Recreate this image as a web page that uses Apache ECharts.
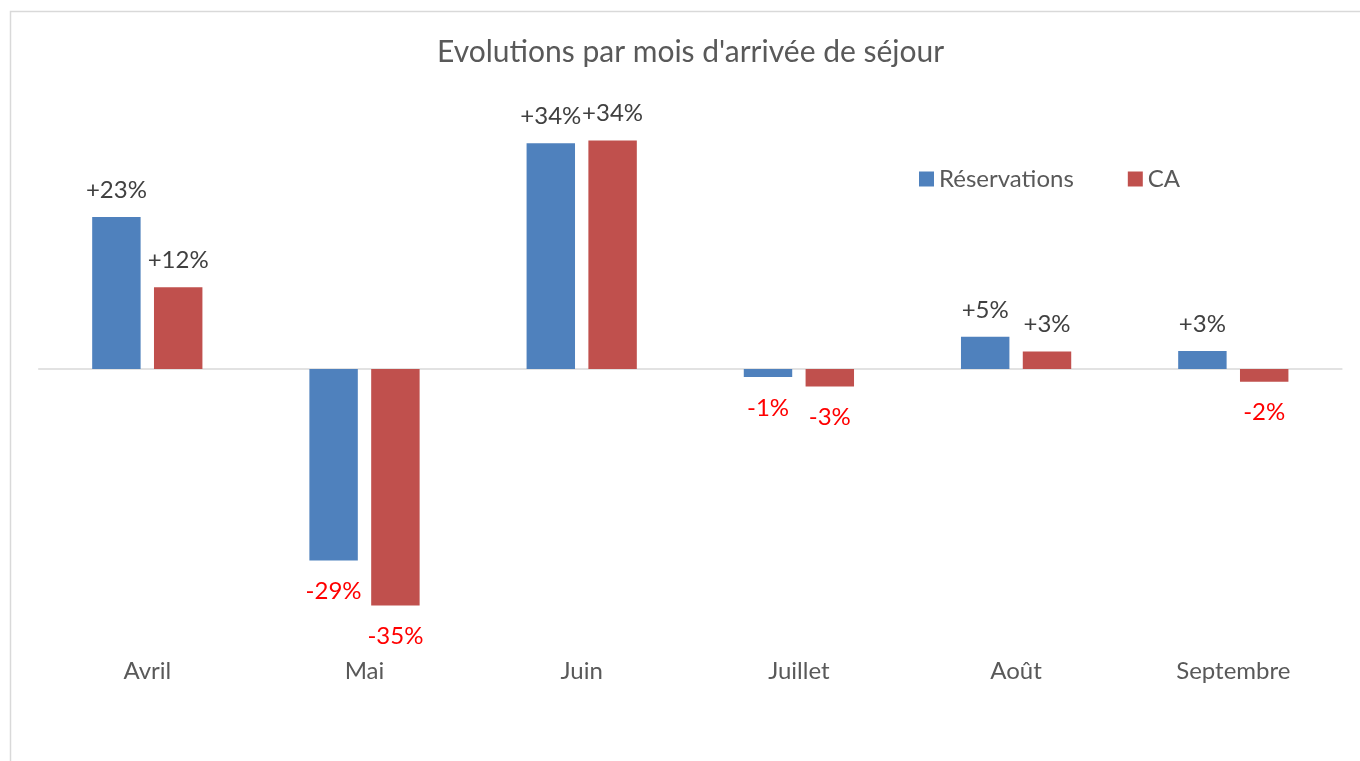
<!DOCTYPE html>
<html>
<head>
<meta charset="utf-8">
<script src="https://cdn.jsdelivr.net/npm/echarts@6/dist/echarts.min.js"></script>
<style>
html,body{margin:0;padding:0;background:#fff;}
#chart{width:1360px;height:761px;}
</style>
</head>
<body>
<div id="chart"></div>
<script>
const categories = ['Avril', 'Mai', 'Juin', 'Juillet', 'Août', 'Septembre'];
const reservations = [22.7, -28.6, 33.7, -1.2, 4.8, 2.7];
const ca = [12.2, -35.3, 34.1, -2.6, 2.6, -1.9];
const seriesNames = ['Réservations', 'CA'];
const titleText = "Evolutions par mois d'arrivée de séjour";

const FONT = 'Lato';
function fmt(v) { return (v >= 0 ? '+' : '-') + Math.round(Math.abs(v)) + '%'; }
function items(arr) {
  return arr.map(v => ({
    value: v,
    label: v < 0
      ? { position: 'bottom', distance: 19, color: '#FF0000' }
      : { position: 'top', distance: 15, color: '#404040' }
  }));
}

const chart = echarts.init(document.getElementById('chart'));
chart.setOption({
  animation: false,
  backgroundColor: '#ffffff',
  graphic: [{
    type: 'rect',
    shape: { x: 10.5, y: 11.5, width: 1400, height: 800 },
    style: { fill: 'none', stroke: '#d9d9d9', lineWidth: 1.5 },
    silent: true
  }],
  title: {
    text: titleText,
    left: 432,
    top: 32,
    textStyle: { fontFamily: FONT, fontSize: 30, fontWeight: 'normal', color: '#595959' }
  },
  legend: {
    data: seriesNames,
    left: 914,
    top: 162,
    icon: 'rect',
    itemWidth: 15,
    itemHeight: 15,
    itemGap: 54,
    textStyle: { fontFamily: FONT, fontSize: 24, color: '#595959' }
  },
  grid: { left: 38.7, right: 18.1, top: 101, bottom: 110.6, containLabel: false },
  xAxis: [{
    type: 'category',
    data: categories,
    axisLine: { show: true, onZero: true, lineStyle: { color: '#d9d9d9', width: 1.5 } },
    axisTick: { show: false },
    axisLabel: { show: false }
  }, {
    type: 'category',
    data: categories,
    position: 'bottom',
    axisLine: { show: false, onZero: false },
    axisTick: { show: false },
    axisLabel: { show: true, margin: 9, fontFamily: FONT, fontSize: 24, color: '#595959' }
  }],
  yAxis: {
    type: 'value',
    min: -42,
    max: 40,
    show: false,
    splitLine: { show: false }
  },
  series: [{
    name: seriesNames[0],
    type: 'bar',
    xAxisIndex: 0,
    data: items(reservations),
    barWidth: '22.3%',
    barGap: '27.6%',
    itemStyle: { color: '#4F81BD' },
    label: { show: true, formatter: p => fmt(p.value), fontFamily: FONT, fontSize: 24 }
  }, {
    name: seriesNames[1],
    type: 'bar',
    xAxisIndex: 0,
    data: items(ca),
    barWidth: '22.3%',
    barGap: '27.6%',
    itemStyle: { color: '#C0504D' },
    label: { show: true, formatter: p => fmt(p.value), fontFamily: FONT, fontSize: 24 }
  }]
});
</script>
</body>
</html>
